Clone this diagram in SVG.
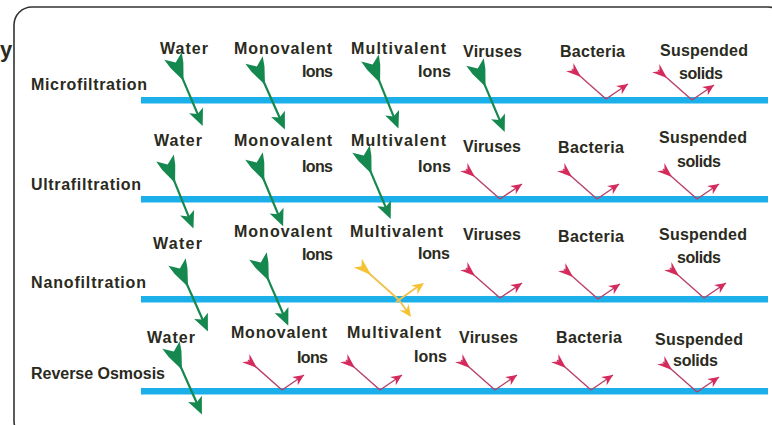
<svg xmlns="http://www.w3.org/2000/svg" xmlns:xlink="http://www.w3.org/1999/xlink" width="772" height="425" viewBox="0 0 772 425">
<style>
  .t{font-family:"Liberation Sans",Arial,sans-serif;font-weight:bold;font-size:16px;fill:#2a2a20}
  .mem{fill:#1bb0ea}
  .g{fill:#15884f}
  .gl{stroke:#15884f;stroke-width:2.2;fill:none}
  .rf{fill:#d42a5c}
  .rl{stroke:#b84068;stroke-width:1.4;fill:none}
  .yf{fill:#f5c232}
  .yl{stroke:#efc24a;stroke-width:1.8;fill:none}
</style>
<defs>
  <g id="garrow">
    <line class="gl" x1="20" y1="0" x2="64" y2="0"/>
    <polygon class="g" points="0,-9.5 10,-7 27,0 10,7 0,9.5 7,0"/>
    <polygon class="g" points="76,0 59,-7.5 63,0 59,7.5"/>
  </g>
  <g id="bounce">
    <line class="rl" x1="-34" y1="-30" x2="0" y2="0"/>
    <polygon class="rf" transform="translate(-34,-30) rotate(41.4)" points="-3,-5.5 12,0 -3,5.5 2,0"/>
    <line class="rl" x1="0" y1="0" x2="22" y2="-15"/>
    <polygon class="rf" transform="translate(22,-15) rotate(-34.3)" points="0,0 -11,-5 -7.5,0 -11,5"/>
  </g>
</defs>
<rect width="772" height="425" fill="#ffffff"/>
<text class="t" x="0" y="57" style="font-size:22px">y</text>
<rect x="14" y="7" width="772" height="432" rx="18" fill="none" stroke="#333330" stroke-width="1.6"/>

<g id="membranes">
  <rect class="mem" x="141" y="97" width="627" height="6.5"/>
  <rect class="mem" x="141" y="196" width="627" height="6.5"/>
  <rect class="mem" x="141" y="296" width="627" height="6.5"/>
  <rect class="mem" x="141" y="388" width="627" height="6.5"/>
</g>

<g id="row-microfiltration">
  <text class="t" x="31" y="90" textLength="116">Microfiltration</text>
  <text class="t" x="160" y="54" textLength="48">Water</text>
  <text class="t" x="234" y="54" textLength="98">Monovalent</text>
  <text class="t" x="302" y="77" textLength="31">Ions</text>
  <text class="t" x="351" y="54" textLength="95">Multivalent</text>
  <text class="t" x="418" y="77" textLength="33">Ions</text>
  <text class="t" x="463" y="57" textLength="59">Viruses</text>
  <text class="t" x="560" y="57" textLength="65">Bacteria</text>
  <text class="t" x="660" y="56" textLength="88">Suspended</text>
  <text class="t" x="679" y="79" textLength="44">solids</text>
</g>

<g id="row-ultrafiltration">
  <text class="t" x="31" y="190" textLength="110">Ultrafiltration</text>
  <text class="t" x="154" y="146" textLength="48">Water</text>
  <text class="t" x="234" y="146" textLength="98">Monovalent</text>
  <text class="t" x="302" y="172" textLength="31">Ions</text>
  <text class="t" x="351" y="146" textLength="95">Multivalent</text>
  <text class="t" x="418" y="172" textLength="33">Ions</text>
  <text class="t" x="463" y="152" textLength="58">Viruses</text>
  <text class="t" x="558" y="153" textLength="66">Bacteria</text>
  <text class="t" x="659" y="143" textLength="88">Suspended</text>
  <text class="t" x="677" y="167" textLength="44">solids</text>
</g>

<g id="row-nanofiltration">
  <text class="t" x="31" y="288" textLength="115">Nanofiltration</text>
  <text class="t" x="153" y="249" textLength="49">Water</text>
  <text class="t" x="234" y="237" textLength="98">Monovalent</text>
  <text class="t" x="302" y="260" textLength="31">Ions</text>
  <text class="t" x="350" y="237" textLength="93">Multivalent</text>
  <text class="t" x="418" y="259" textLength="32">Ions</text>
  <text class="t" x="463" y="240" textLength="58">Viruses</text>
  <text class="t" x="558" y="242" textLength="66">Bacteria</text>
  <text class="t" x="659" y="240" textLength="88">Suspended</text>
  <text class="t" x="677" y="263" textLength="44">solids</text>
</g>

<g id="row-reverse-osmosis">
  <text class="t" x="31" y="379" textLength="134">Reverse Osmosis</text>
  <text class="t" x="147" y="343" textLength="48">Water</text>
  <text class="t" x="231" y="338" textLength="96">Monovalent</text>
  <text class="t" x="297" y="363" textLength="31">Ions</text>
  <text class="t" x="347" y="338" textLength="94">Multivalent</text>
  <text class="t" x="414" y="362" textLength="33">Ions</text>
  <text class="t" x="459" y="343" textLength="59">Viruses</text>
  <text class="t" x="556" y="343" textLength="66">Bacteria</text>
  <text class="t" x="655" y="345" textLength="88">Suspended</text>
  <text class="t" x="673" y="366" textLength="45">solids</text>
</g>

<g id="connectors">
  <!-- passing (green) -->
  <use href="#garrow" transform="translate(173,56) rotate(67)"/>
  <use href="#garrow" transform="translate(254,60) rotate(66)"/>
  <use href="#garrow" transform="translate(370,58) rotate(68)"/>
  <use href="#garrow" transform="translate(475,62) rotate(67)"/>
  <use href="#garrow" transform="translate(165,158) rotate(68)"/>
  <use href="#garrow" transform="translate(254,156) rotate(67.5)"/>
  <use href="#garrow" transform="translate(361,149) rotate(67)"/>
  <use href="#garrow" transform="translate(177,262) rotate(66)"/>
  <use href="#garrow" transform="translate(258,256) rotate(66.5)"/>
  <use href="#garrow" transform="translate(171,345) rotate(66)"/>
  <!-- rejected (red) -->
  <use href="#bounce" transform="translate(606,99)"/>
  <use href="#bounce" transform="translate(692,100)"/>
  <use href="#bounce" transform="translate(500,199)"/>
  <use href="#bounce" transform="translate(597,199)"/>
  <use href="#bounce" transform="translate(697,199)"/>
  <use href="#bounce" transform="translate(500,298)"/>
  <use href="#bounce" transform="translate(598,299)"/>
  <use href="#bounce" transform="translate(704,298)"/>
  <use href="#bounce" transform="translate(282,390)"/>
  <use href="#bounce" transform="translate(380,390)"/>
  <use href="#bounce" transform="translate(495,390)"/>
  <use href="#bounce" transform="translate(591,390)"/>
  <use href="#bounce" transform="translate(697,392)"/>
  <!-- partial (yellow) -->
  <g id="partial">
    <line class="yl" x1="362" y1="267" x2="399" y2="300"/>
    <polygon class="yf" transform="translate(360,265) rotate(42)" points="-3,-6 15,0 -3,6 2,0"/>
    <line class="yl" x1="399" y1="300" x2="409" y2="314"/>
    <polygon class="yf" transform="translate(411,317) rotate(55)" points="0,0 -12,-5.5 -8,0 -12,5.5"/>
    <line class="yl" x1="396" y1="302" x2="420" y2="285"/>
    <polygon class="yf" transform="translate(424,283) rotate(-35)" points="0,0 -12,-5.5 -8,0 -12,5.5"/>
  </g>
</g>
</svg>
